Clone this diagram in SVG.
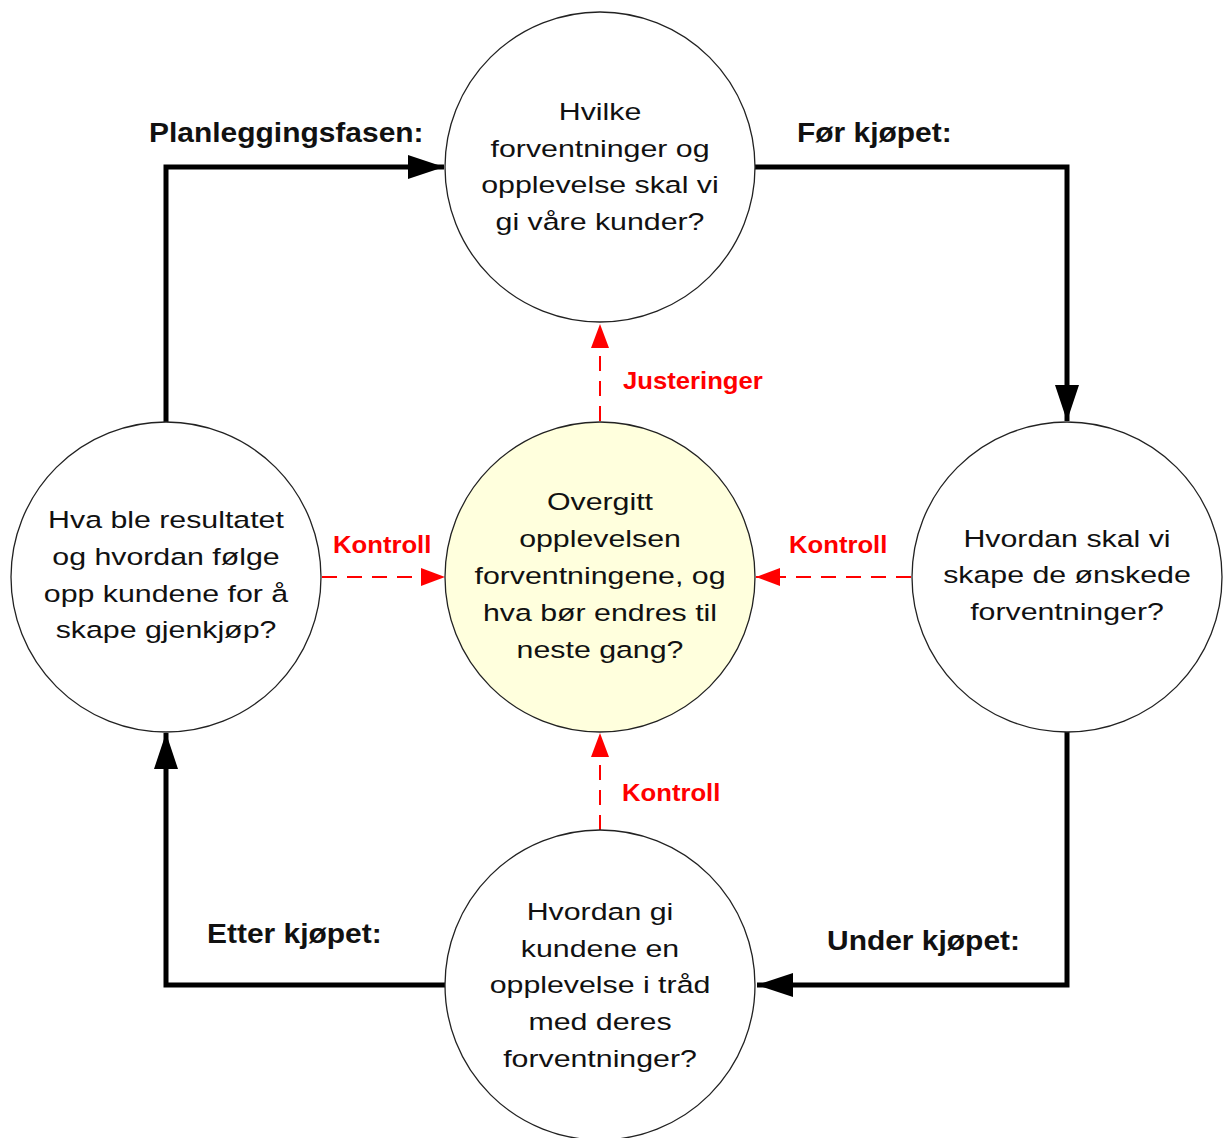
<svg xmlns="http://www.w3.org/2000/svg" width="1231" height="1138" viewBox="0 0 1231 1138">
<style>
.node{fill:#fff;stroke:#222;stroke-width:1.3}
.center{fill:#FFFFDD}
.t{font-family:"Liberation Sans",Arial,sans-serif;font-size:23.5px;fill:#111;text-anchor:middle}
.lbl{font-family:"Liberation Sans",Arial,sans-serif;font-size:28px;font-weight:bold;fill:#111}
.red{font-family:"Liberation Sans",Arial,sans-serif;font-size:24px;font-weight:bold;fill:#f00}
.main{fill:none;stroke:#000;stroke-width:5;stroke-linejoin:miter}
.ctrl{fill:none;stroke:#f00;stroke-width:2;stroke-dasharray:15 10}
</style>
<defs>
<marker id="ab" viewBox="0 0 36 24" refX="36" refY="12" markerWidth="36" markerHeight="24" markerUnits="userSpaceOnUse" orient="auto"><path d="M0,0 L36,12 L0,24 Z" fill="#000"/></marker>
<marker id="ar" viewBox="0 0 24 18" refX="24" refY="9" markerWidth="24" markerHeight="18" markerUnits="userSpaceOnUse" orient="auto"><path d="M0,0 L24,9 L0,18 Z" fill="#f00"/></marker>
</defs>
<g id="connectors">
<path class="main" d="M166,422 V167 H444" marker-end="url(#ab)"/>
<path class="main" d="M755,167 H1067 V421" marker-end="url(#ab)"/>
<path class="main" d="M1067,732 V985 H757" marker-end="url(#ab)"/>
<path class="main" d="M445,985 H166 V733" marker-end="url(#ab)"/>
<path class="ctrl" d="M600,421 V324" marker-end="url(#ar)"/>
<path class="ctrl" d="M322,577 H445" marker-end="url(#ar)"/>
<path class="ctrl" d="M911,577 H756" marker-end="url(#ar)"/>
<path class="ctrl" d="M600,830 V733" marker-end="url(#ar)"/>
<text class="lbl" transform="translate(149,142) scale(1.07,1)">Planleggingsfasen:</text>
<text class="lbl" transform="translate(797,142) scale(1.07,1)">Før kjøpet:</text>
<text class="lbl" transform="translate(207,943) scale(1.07,1)">Etter kjøpet:</text>
<text class="lbl" transform="translate(827,950) scale(1.07,1)">Under kjøpet:</text>
<text class="red" transform="translate(623,389) scale(1.07,1)">Justeringer</text>
<text class="red" transform="translate(333,553) scale(1.07,1)">Kontroll</text>
<text class="red" transform="translate(789,553) scale(1.07,1)">Kontroll</text>
<text class="red" transform="translate(622,801) scale(1.07,1)">Kontroll</text>
</g>
<g id="node-top">
<circle class="node" cx="600" cy="167" r="155"/>
<g transform="translate(600,0) scale(1.29,1)">
<text class="t" x="0" y="120">Hvilke</text>
<text class="t" x="0" y="157">forventninger og</text>
<text class="t" x="0" y="193">opplevelse skal vi</text>
<text class="t" x="0" y="230">gi våre kunder?</text>
</g>
</g>
<g id="node-left">
<circle class="node" cx="166" cy="577" r="155"/>
<g transform="translate(166,0) scale(1.29,1)">
<text class="t" x="0" y="528">Hva ble resultatet</text>
<text class="t" x="0" y="565">og hvordan følge</text>
<text class="t" x="0" y="602">opp kundene for å</text>
<text class="t" x="0" y="638">skape gjenkjøp?</text>
</g>
</g>
<g id="node-center">
<circle class="node center" cx="600" cy="577" r="155"/>
<g transform="translate(600,0) scale(1.29,1)">
<text class="t" x="0" y="510">Overgitt</text>
<text class="t" x="0" y="547">opplevelsen</text>
<text class="t" x="0" y="584">forventningene, og</text>
<text class="t" x="0" y="621">hva bør endres til</text>
<text class="t" x="0" y="658">neste gang?</text>
</g>
</g>
<g id="node-right">
<circle class="node" cx="1067" cy="577" r="155"/>
<g transform="translate(1067,0) scale(1.29,1)">
<text class="t" x="0" y="547">Hvordan skal vi</text>
<text class="t" x="0" y="583">skape de ønskede</text>
<text class="t" x="0" y="620">forventninger?</text>
</g>
</g>
<g id="node-bottom">
<circle class="node" cx="600" cy="985" r="155"/>
<g transform="translate(600,0) scale(1.29,1)">
<text class="t" x="0" y="920">Hvordan gi</text>
<text class="t" x="0" y="957">kundene en</text>
<text class="t" x="0" y="993">opplevelse i tråd</text>
<text class="t" x="0" y="1030">med deres</text>
<text class="t" x="0" y="1067">forventninger?</text>
</g>
</g>
</svg>
